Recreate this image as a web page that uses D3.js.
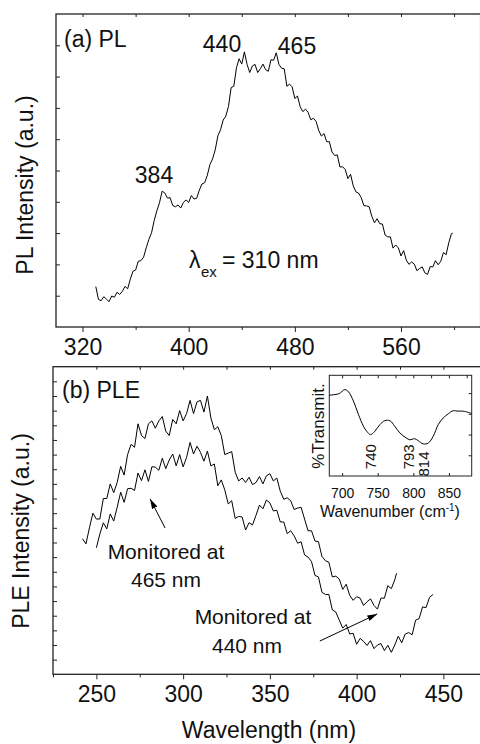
<!DOCTYPE html>
<html lang="en">
<head>
<meta charset="UTF-8">
<title>PL and PLE spectra</title>
<style>
  body { margin: 0; background: #fff; }
  svg text { font-family: "Liberation Sans", Arial, sans-serif; fill: #111; }
  .tick line { stroke: #222; stroke-width: 1.2; }
</style>
</head>
<body>
<script src="https://d3js.org/d3.v7.min.js"></script>
<script>
// (a) PL spectrum, excitation 310 nm
let plWavelength = [330, 332, 334, 336, 338, 340, 342, 344, 346, 348, 350, 352, 354, 356, 358, 360, 362, 364, 366, 368,
  370, 372, 374, 376, 378, 380, 382, 384, 386, 388, 390, 392, 394, 396, 398, 400, 402, 404, 406, 408,
  410, 412, 414, 416, 418, 420, 422, 424, 426, 428, 430, 432, 434, 436, 438, 440, 442, 444, 446, 448,
  450, 452, 454, 456, 458, 460, 462, 464, 466, 468, 470, 472, 474, 476, 478, 480, 482, 484, 486, 488,
  490, 492, 494, 496, 498, 500, 502, 504, 506, 508, 510, 512, 514, 516, 518, 520, 522, 524, 526, 528,
  530, 532, 534, 536, 538, 540, 542, 544, 546, 548, 550, 552, 554, 556, 558, 560, 562, 564, 566, 568,
  570, 572, 574, 576, 578, 580, 582, 584, 586, 588, 590, 592, 594, 596, 598, 599];
let plIntensity = [1.29, 0.88, 0.84, 0.97, 0.89, 0.81, 0.99, 0.95, 1.11, 1.04, 1.14, 1.30, 1.22, 1.53, 1.78, 1.82, 2.10, 2.12, 2.23, 2.53,
  2.80, 3.01, 3.40, 3.71, 3.97, 4.34, 4.28, 4.12, 4.13, 3.88, 3.84, 3.90, 3.80, 3.98, 4.06, 3.98, 4.20, 4.09, 4.11, 4.37,
  4.57, 4.61, 4.84, 5.19, 5.37, 5.66, 6.11, 6.30, 6.61, 6.74, 7.05, 7.65, 7.69, 8.28, 8.57, 8.40, 8.79, 8.39, 8.13, 8.34,
  8.39, 8.13, 8.25, 8.40, 8.22, 8.17, 8.54, 8.52, 8.76, 8.39, 8.27, 8.25, 7.69, 7.76, 7.67, 7.30, 7.38, 7.04, 6.88, 6.96,
  6.86, 6.62, 6.67, 6.57, 6.28, 6.10, 6.18, 5.92, 5.92, 5.59, 5.48, 5.50, 5.11, 5.12, 5.03, 4.74, 4.88, 4.51, 4.32, 4.28,
  4.14, 3.88, 3.87, 3.84, 3.54, 3.33, 3.46, 3.30, 3.29, 2.94, 2.88, 2.88, 2.52, 2.62, 2.53, 2.27, 2.44, 2.14, 2.00, 2.08,
  2.01, 1.80, 1.87, 1.92, 1.73, 1.68, 1.93, 1.92, 2.12, 1.99, 2.10, 2.38, 2.31, 2.69, 2.98, 3.00];

// (b) PLE monitored at 440 nm (upper trace)
let ple440Wavelength = [242, 244, 246, 248, 250, 252, 254, 256, 258, 260, 262, 264, 266, 268, 270, 272, 274, 276, 278, 280,
  282, 284, 286, 288, 290, 292, 294, 296, 298, 300, 302, 304, 306, 308, 310, 312, 314, 316, 318, 320,
  322, 324, 326, 328, 330, 332, 334, 336, 338, 340, 342, 344, 346, 348, 350, 352, 354, 356, 358, 360,
  362, 364, 366, 368, 370, 372, 374, 376, 378, 380, 382, 384, 386, 388, 390, 392, 394, 396, 398, 400,
  402, 404, 406, 408, 410, 412, 414, 416, 418, 420, 422, 423];
let ple440Intensity = [9.26, 8.9, 10.0, 11.0, 10.6, 10.6, 12.0, 12.0, 13.0, 12.4, 13.1, 14.2, 13.6, 15.0, 15.7, 15.5, 17.1, 16.3, 16.1, 17.1,
  17.3, 16.8, 17.3, 17.6, 16.6, 16.3, 17.4, 17.1, 18.0, 17.3, 17.8, 18.7, 17.8, 18.6, 18.7, 17.9, 19.0, 17.5, 16.7, 16.9,
  16.3, 15.0, 15.1, 15.2, 13.8, 13.2, 13.4, 13.1, 13.45, 12.95, 13.1, 13.5, 13.0, 13.55, 13.7, 13.2, 13.4, 12.5, 11.95, 12.05,
  11.85, 11.25, 11.35, 11.4, 10.6, 9.8, 9.8, 9.1, 9.05, 8.05, 7.75, 7.65, 6.65, 6.7, 6.5, 5.8, 6.15, 5.4, 5.05, 5.3,
  5.2, 4.7, 4.95, 5.15, 4.7, 4.45, 5.2, 5.2, 6.05, 5.85, 6.45, 6.9];

// (b) PLE monitored at 465 nm (lower trace)
let ple465Wavelength = [250, 252, 254, 256, 258, 260, 262, 264, 266, 268, 270, 272, 274, 276, 278, 280, 282, 284, 286, 288,
  290, 292, 294, 296, 298, 300, 302, 304, 306, 308, 310, 312, 314, 316, 318, 320, 322, 324, 326, 328,
  330, 332, 334, 336, 338, 340, 342, 344, 346, 348, 350, 352, 354, 356, 358, 360, 362, 364, 366, 368,
  370, 372, 374, 376, 378, 380, 382, 384, 386, 388, 390, 392, 394, 396, 398, 400, 402, 404, 406, 408,
  410, 412, 414, 416, 418, 420, 422, 424, 426, 428, 430, 432, 434, 436, 438, 440, 442, 444];
let ple465Intensity = [8.64, 9.58, 10.34, 9.93, 10.95, 10.46, 11.41, 12.43, 11.74, 12.67, 12.7, 12.55, 13.74, 13.22, 13.96, 13.17, 14.17, 14.14, 13.93, 14.75,
  14.04, 14.63, 15.04, 14.23, 15.0, 14.16, 14.81, 15.83, 15.04, 15.57, 15.15, 14.55, 15.24, 14.22, 14.36, 12.87, 13.27, 12.59, 11.63, 11.85,
  10.64, 10.78, 10.74, 9.85, 10.35, 10.2, 10.85, 11.55, 11.3, 11.9, 11.7, 11.15, 11.2, 10.4, 10.4, 9.6, 9.8, 9.45, 8.95, 9.05,
  8.15, 8.0, 7.7, 6.75, 6.65, 5.6, 5.45, 5.45, 4.4, 4.25, 3.7, 3.15, 3.4, 2.75, 2.8, 2.05, 2.45, 2.25, 1.97, 2.3,
  1.75, 2.0, 2.1, 1.62, 1.98, 1.5, 2.0, 2.6, 2.15, 2.75, 2.85, 2.7, 3.7, 3.8, 4.6, 4.55, 5.25, 5.45];

// inset: IR transmission
let insetWavenumber = [682, 690, 696, 704, 709, 716, 723, 730, 734.5, 740, 746, 753, 760, 767, 774, 781, 790, 795, 802, 807,
  814, 821, 828, 835, 842, 849, 856, 863, 870, 882];
let insetTransmit = [3.90, 3.93, 3.98, 4.17, 4.06, 3.61, 2.96, 2.40, 2.16, 2.00, 2.16, 2.48, 2.67, 2.67, 2.40, 2.08, 1.84, 1.75, 1.80, 1.70,
  1.55, 1.59, 1.92, 2.48, 2.80, 3.00, 3.15, 3.13, 3.13, 3.02];

// tick labels
let plTicks = [320, 400, 480, 560];
let pleTicks = [250, 300, 350, 400, 450];
let insetTicks = [700, 750, 800, 850];
let insetPeaks = [740, 793, 814];

let svg = d3.select("body").append("svg")
  .attr("width", 480)
  .attr("height", 744);

// ---------- panel (a) ----------
let xA = d3.scaleLinear().domain([300, 620]).range([56, 480.6]);
let yA = d3.scaleLinear().domain([0, 10]).range([327, 14]);

svg.append("rect")
  .attr("x", 56).attr("y", 14)
  .attr("width", 424.6).attr("height", 313)
  .attr("fill", "none").attr("stroke", "#222").attr("stroke-width", 1.3);

svg.append("g").attr("transform", "translate(0,327)")
  .call(d3.axisBottom(xA).tickValues(plTicks).tickSize(5).tickPadding(7).tickFormat(d3.format("d")))
  .call(g => g.select(".domain").remove())
  .call(g => g.selectAll("text").style("font-size", "23px"));
svg.append("g").attr("transform", "translate(0,327)")
  .call(d3.axisBottom(xA).tickValues([360, 440, 520, 600]).tickSize(3).tickFormat(""))
  .call(g => g.select(".domain").remove());
svg.append("g").attr("transform", "translate(0,14)")
  .call(d3.axisTop(xA).tickValues([320, 360, 400, 440, 480, 520, 560, 600]).tickSize(-3).tickFormat(""))
  .call(g => g.select(".domain").remove());
svg.append("g").attr("transform", "translate(56,0)")
  .call(d3.axisLeft(yA).tickValues(d3.range(1, 10)).tickSize(-4).tickFormat(""))
  .call(g => g.select(".domain").remove());

let lineA = d3.line()
  .x((d, i) => xA(plWavelength[i]))
  .y(d => yA(d));

svg.append("path")
  .datum(plIntensity)
  .attr("d", lineA)
  .attr("fill", "none")
  .attr("stroke", "#000")
  .attr("stroke-width", 1);

svg.append("text").attr("x", 64).attr("y", 46.5).style("font-size", "23px").text("(a) PL");
svg.append("text").attr("x", 222).attr("y", 51.5).attr("text-anchor", "middle").style("font-size", "23px").text("440");
svg.append("text").attr("x", 297).attr("y", 53.5).attr("text-anchor", "middle").style("font-size", "23px").text("465");
svg.append("text").attr("x", 154).attr("y", 183).attr("text-anchor", "middle").style("font-size", "23px").text("384");
svg.append("text").attr("x", 189).attr("y", 268).style("font-size", "23px").text("λ");
svg.append("text").attr("x", 201).attr("y", 276.5).style("font-size", "15px").text("ex");
svg.append("text").attr("x", 222).attr("y", 268).style("font-size", "23px").text("= 310 nm");

svg.append("text")
  .attr("transform", "translate(33,185) rotate(-90)")
  .attr("text-anchor", "middle")
  .style("font-size", "23px")
  .text("PL Intensity (a.u.)");

// ---------- panel (b) ----------
let xB = d3.scaleLinear().domain([225, 475]).range([53, 486.75]);
let yB = d3.scaleLinear().domain([0, 21]).range([674.3, 366.7]);

svg.append("rect")
  .attr("x", 53).attr("y", 366.7)
  .attr("width", 433.75).attr("height", 307.6)
  .attr("fill", "none").attr("stroke", "#222").attr("stroke-width", 1.3);

svg.append("g").attr("transform", "translate(0,674.3)")
  .call(d3.axisBottom(xB).tickValues(pleTicks).tickSize(5).tickPadding(6).tickFormat(d3.format("d")))
  .call(g => g.select(".domain").remove())
  .call(g => g.selectAll("text").style("font-size", "23px"));
svg.append("g").attr("transform", "translate(0,674.3)")
  .call(d3.axisBottom(xB).tickValues([225, 275, 325, 375, 425, 475]).tickSize(3).tickFormat(""))
  .call(g => g.select(".domain").remove());
svg.append("g").attr("transform", "translate(0,366.7)")
  .call(d3.axisTop(xB).tickValues(d3.range(250, 476, 25)).tickSize(-3).tickFormat(""))
  .call(g => g.select(".domain").remove());
svg.append("g").attr("transform", "translate(53,0)")
  .call(d3.axisLeft(yB).tickValues(d3.range(1, 21)).tickSize(-4).tickFormat(""))
  .call(g => g.select(".domain").remove());

let line440 = d3.line()
  .x((d, i) => xB(ple440Wavelength[i]))
  .y(d => yB(d));
let line465 = d3.line()
  .x((d, i) => xB(ple465Wavelength[i]))
  .y(d => yB(d));

svg.append("path").datum(ple440Intensity).attr("d", line440)
  .attr("fill", "none").attr("stroke", "#000").attr("stroke-width", 1);
svg.append("path").datum(ple465Intensity).attr("d", line465)
  .attr("fill", "none").attr("stroke", "#000").attr("stroke-width", 1);

svg.append("text").attr("x", 62).attr("y", 398).style("font-size", "23px").text("(b) PLE");

svg.append("text").attr("x", 166).attr("y", 558.5).attr("text-anchor", "middle").style("font-size", "21px").text("Monitored at");
svg.append("text").attr("x", 166).attr("y", 587).attr("text-anchor", "middle").style("font-size", "21px").text("465 nm");
svg.append("text").attr("x", 253).attr("y", 624).attr("text-anchor", "middle").style("font-size", "21px").text("Monitored at");
svg.append("text").attr("x", 247).attr("y", 653).attr("text-anchor", "middle").style("font-size", "21px").text("440 nm");

// arrows
svg.append("defs").append("marker")
  .attr("id", "head")
  .attr("viewBox", "0 0 10 6")
  .attr("refX", 10).attr("refY", 3)
  .attr("markerUnits", "userSpaceOnUse")
  .attr("markerWidth", 10).attr("markerHeight", 6)
  .attr("orient", "auto")
  .append("path").attr("d", "M0,0 L10,3 L0,6 z").attr("fill", "#000");

let arrows = [
  { from: [289.6, 9.99], to: [281.0, 11.97] },
  { from: [378.8, 2.27], to: [411.9, 4.12] }
];
arrows.forEach(a => {
  svg.append("line")
    .attr("x1", xB(a.from[0])).attr("y1", yB(a.from[1]))
    .attr("x2", xB(a.to[0])).attr("y2", yB(a.to[1]))
    .attr("stroke", "#000").attr("stroke-width", 1)
    .attr("marker-end", "url(#head)");
});

svg.append("text")
  .attr("transform", "translate(29,531) rotate(-90)")
  .attr("text-anchor", "middle")
  .style("font-size", "23px")
  .text("PLE Intensity (a.u.)");

svg.append("text")
  .attr("x", 269).attr("y", 738)
  .attr("text-anchor", "middle")
  .style("font-size", "23px")
  .text("Wavelength (nm)");

// ---------- inset ----------
let xI = d3.scaleLinear().domain([682, 882]).range([329.3, 471.7]);
let yI = d3.scaleLinear().domain([0, 4.86]).range([476, 375.3]);

svg.append("rect")
  .attr("x", 329.3).attr("y", 375.3)
  .attr("width", 142.4).attr("height", 100.7)
  .attr("fill", "#fff").attr("stroke", "#222").attr("stroke-width", 1);

svg.append("g").attr("transform", "translate(0,476)")
  .call(d3.axisBottom(xI).tickValues(insetTicks).tickSize(-3).tickPadding(12.5).tickFormat(d3.format("d")))
  .call(g => g.select(".domain").remove())
  .call(g => g.selectAll("text").style("font-size", "14px"));
svg.append("g").attr("transform", "translate(0,375.3)")
  .call(d3.axisTop(xI).tickValues(d3.range(700, 881, 25)).tickSize(-3).tickFormat(""))
  .call(g => g.select(".domain").remove());
svg.append("g").attr("transform", "translate(471.7,0)")
  .call(d3.axisRight(yI).tickValues([1, 2, 3, 4]).tickSize(-3).tickFormat(""))
  .call(g => g.select(".domain").remove());
svg.selectAll(".tick line").style("stroke-width", 1);

let lineI = d3.line()
  .x((d, i) => xI(insetWavenumber[i]))
  .y(d => yI(d))
  .curve(d3.curveCatmullRom);

svg.append("path").datum(insetTransmit).attr("d", lineI)
  .attr("fill", "none").attr("stroke", "#000").attr("stroke-width", 1);

let insetPeakY = [456.7, 456.8, 464];
insetPeaks.forEach((p, i) => {
  svg.append("text")
    .attr("transform", `translate(${xI(p) + 5.5},${insetPeakY[i]}) rotate(-90)`)
    .attr("text-anchor", "middle")
    .style("font-size", "15px")
    .text(p);
});

svg.append("text")
  .attr("transform", "translate(323.5,426) rotate(-90)")
  .attr("text-anchor", "middle")
  .style("font-size", "17px")
  .text("%Transmit.");

let wn = svg.append("text")
  .attr("x", 390).attr("y", 517)
  .attr("text-anchor", "middle")
  .style("font-size", "16px");
wn.append("tspan").text("Wavenumber (cm");
wn.append("tspan").attr("dy", -6).style("font-size", "10px").text("-1");
wn.append("tspan").attr("dy", 6).text(")");
</script>
</body>
</html>
